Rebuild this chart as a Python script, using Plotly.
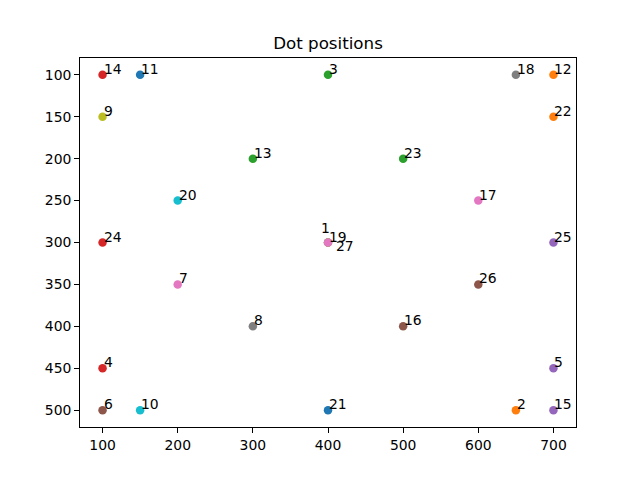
import plotly.graph_objects as go

labels = list(range(1, 28))
xs = [400, 650, 400, 100, 700, 100, 200, 300, 100, 150, 150, 700, 300, 100, 700,
      500, 600, 650, 400, 200, 400, 700, 500, 100, 700, 600, 400]
ys = [300, 500, 100, 450, 450, 500, 350, 400, 150, 500, 100, 100, 200, 100, 500,
      400, 250, 100, 300, 250, 500, 150, 200, 300, 300, 350, 300]

tab10 = ["#1f77b4", "#ff7f0e", "#2ca02c", "#d62728", "#9467bd",
         "#8c564b", "#e377c2", "#7f7f7f", "#bcbd22", "#17becf"]
colors = [tab10[i % 10] for i in range(len(labels))]

# label offsets (pixels) for overlapping labels
offsets = {1: (-8, 9), 27: (7, -9)}

fig = go.Figure()
fig.add_trace(go.Scatter(x=xs, y=ys, mode="markers",
                         marker=dict(color=colors, size=8.5, line=dict(width=0)),
                         showlegend=False, hoverinfo="skip"))

font = "DejaVu Sans"
for lab, x, y in zip(labels, xs, ys):
    dx, dy = offsets.get(lab, (0, 0))
    fig.add_annotation(x=x, y=y, text=str(lab), showarrow=False,
                       xanchor="left", yanchor="bottom",
                       xshift=-1 + dx, yshift=-4 + dy,
                       font=dict(family=font, size=13.9, color="black"))

axis_common = dict(showline=True, linecolor="black", linewidth=1, mirror=True,
                   ticks="outside", ticklen=4.9, tickwidth=1, tickcolor="black",
                   showgrid=False, zeroline=False,
                   tickfont=dict(family=font, size=13.9, color="black"))

fig.update_layout(
    width=640, height=480,
    margin=dict(l=80, r=64, t=57.6, b=52.8),
    paper_bgcolor="white", plot_bgcolor="white",
    title=dict(text="Dot positions", x=0.5125, xanchor="center", y=1 - 43 / 480,
               yanchor="middle", font=dict(family=font, size=16.7, color="black")),
    xaxis=dict(range=[70, 730], tickvals=[100, 200, 300, 400, 500, 600, 700], **axis_common),
    yaxis=dict(range=[520, 80], tickvals=[100, 150, 200, 250, 300, 350, 400, 450, 500], **axis_common),
)

fig.write_html("out.html")
